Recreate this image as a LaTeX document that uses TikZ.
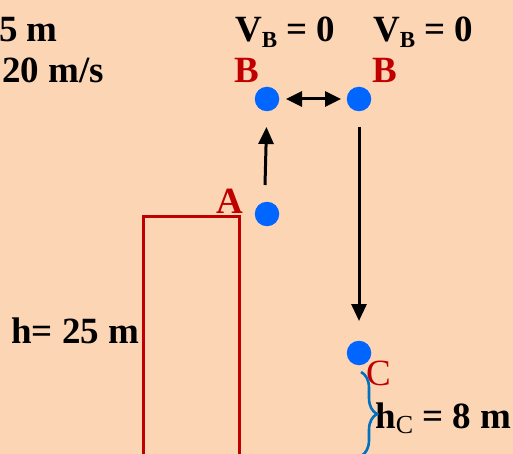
\documentclass[tikz,border=0pt]{standalone}
\usepackage{fontspec}
\setmainfont{Liberation Serif}
\usetikzlibrary{arrows.meta,decorations.pathreplacing}
\definecolor{bgpeach}{HTML}{FCD5B5}
\definecolor{ptred}{HTML}{C00000}
\definecolor{dotblue}{HTML}{0066FF}
\definecolor{braceblue}{HTML}{0070C0}
\newcommand{\lowsub}[2][23]{\raisebox{-5.5pt}{\fontsize{#1}{#1}\selectfont #2}}
\tikzset{
  lbl/.style={anchor=base west,inner sep=0pt,font=\fontsize{37}{44}\selectfont\bfseries},
  redlbl/.style={lbl,text=ptred},
  ball/.style={circle,fill=dotblue,minimum size=24.5pt,inner sep=0pt},
  motion/.style={line width=3pt,-{Triangle[length=17pt,width=15pt]}},
  bothway/.style={line width=3pt,{Triangle[length=16pt,width=15pt]}-{Triangle[length=16pt,width=15pt]}},
  tower/.style={draw=ptred,line width=3pt}
}
\begin{document}
\begin{tikzpicture}[x=1pt,y=-1pt]
\useasboundingbox (0,0) rectangle (513,454);
\fill[bgpeach] (0,0) rectangle (513,454);
% tower
\draw[tower] (143,470) -- (143,216) -- (239,216) -- (239,470);
% texts
\node[lbl] (t1) at (-1,42) {5 m};
\node[lbl] (t2) at (2,83) {20 m/s};
\node[lbl] (vb1) at (235,42) {V\lowsub{B} = 0};
\node[lbl] (vb2) at (373,42) {V\lowsub{B} = 0};
\node[redlbl] (lb1) at (234,83) {B};
\node[redlbl] (lb2) at (372,83) {B};
\node[redlbl] (la) at (216,214) {A};
\node[lbl,text=ptred,font=\fontsize{37}{44}\selectfont] (lc) at (366,385) {C};
\node[lbl] (h) at (11,343) {h= 25 m};
\node[lbl] (hc) at (375,428) {h{\fontseries{m}\selectfont\lowsub[26]{C}} = 8 m};
% balls
\node[ball] (B1) at (267,99) {};
\node[ball] (B2) at (359,99) {};
\node[ball] (A) at (267,214) {};
\node[ball] (C) at (359,353) {};
% arrows
\coordinate (a0) at (265,185);
\coordinate (a1) at (266.5,127);
\draw[motion] (a0) -- (a1);
\coordinate (d0) at (359,127);
\coordinate (d1) at (359,321);
\draw[motion] (d0) -- (d1);
\coordinate (h0) at (286,99);
\coordinate (h1) at (341,99);
\draw[bothway] (h0) -- (h1);
% brace
\coordinate (br0) at (361,372);
\coordinate (br1) at (361,456);
\draw[braceblue,line width=2.6pt,decorate,decoration={brace,amplitude=16pt}] (br0) -- (br1);
\end{tikzpicture}
\end{document}
